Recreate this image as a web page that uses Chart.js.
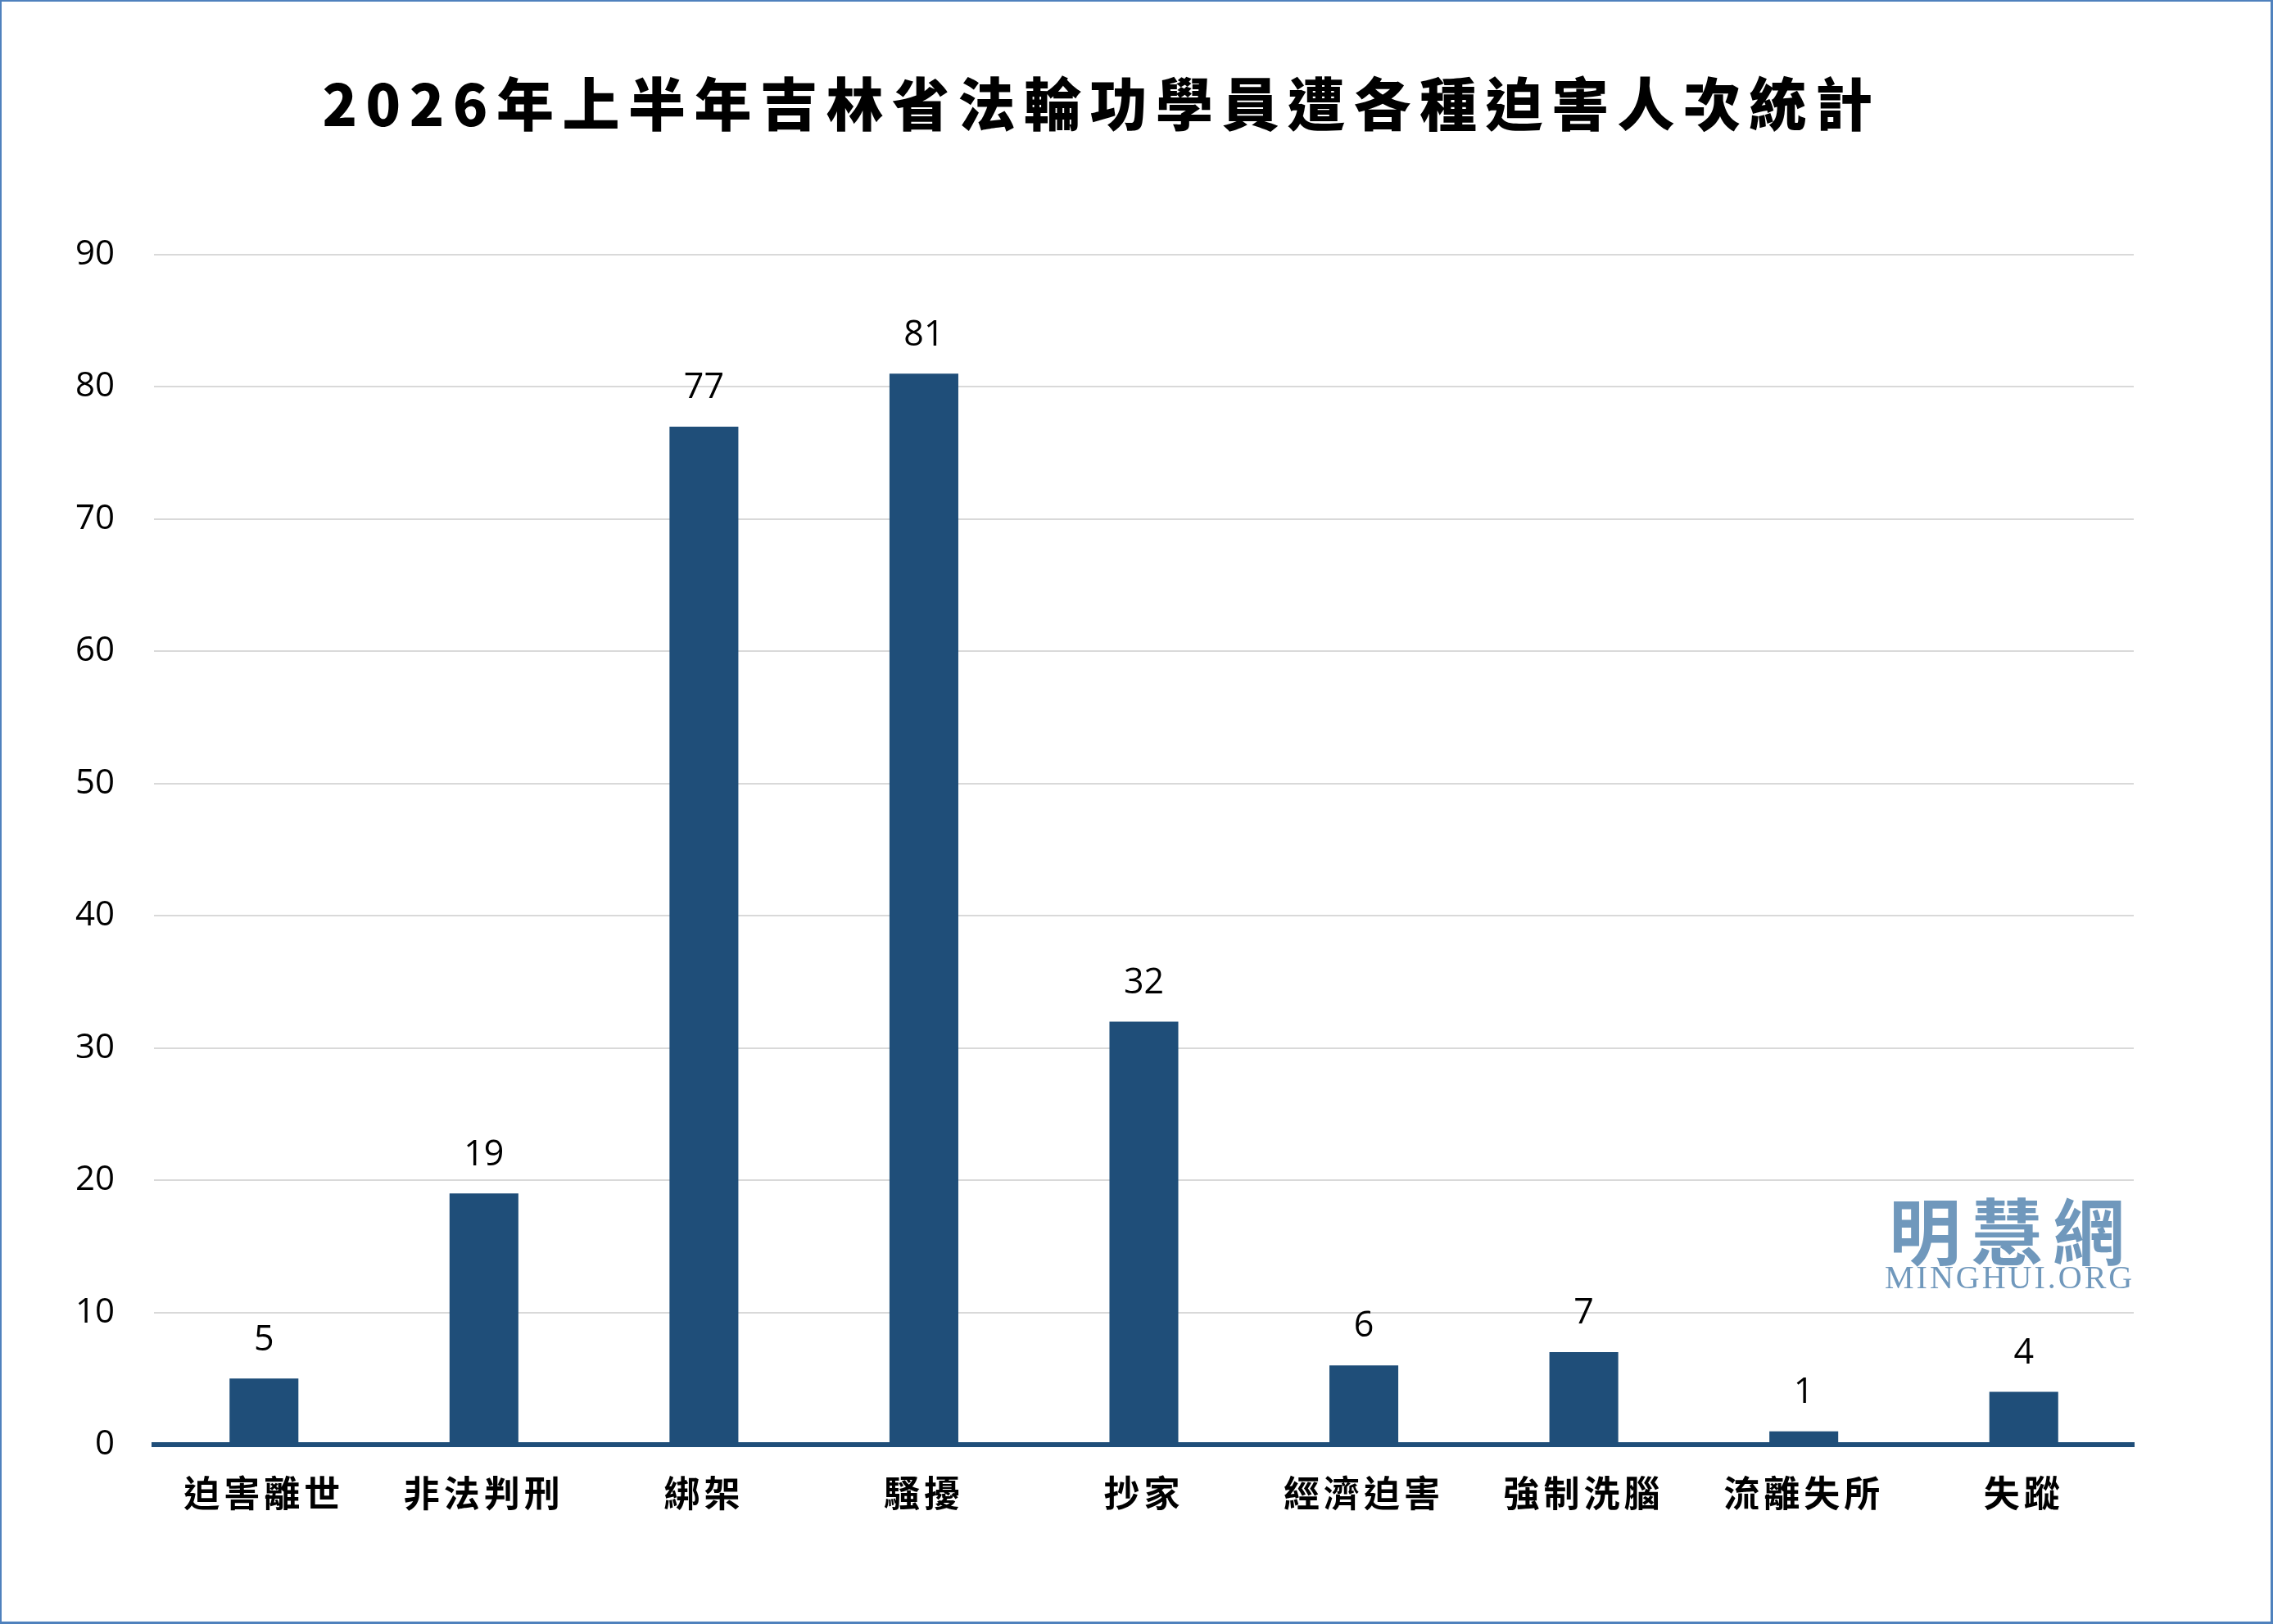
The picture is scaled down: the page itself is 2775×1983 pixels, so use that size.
<!DOCTYPE html>
<html>
<head>
<meta charset="utf-8">
<script src="https://cdn.jsdelivr.net/npm/chart.js@4.4.1/dist/chart.umd.min.js"></script>
<style>
  html, body { margin: 0; padding: 0; background: #fff; }
  #wrap { position: relative; width: 2775px; height: 1983px; overflow: hidden; }
  #frame { position: absolute; left: 0; top: 0; width: 2775px; height: 1983px; box-sizing: border-box;
           border-top: 2px solid #4f81bd; border-left: 2px solid #4f81bd;
           border-right: 3px solid #4f81bd; border-bottom: 3px solid #4f81bd; pointer-events: none; }
  canvas { position: absolute; left: 0; top: 0; }
  #title { position: absolute; left: 0; top: 89px; width: 2690px; text-align: center;
           font-family: "Noto Sans CJK TC", sans-serif; font-weight: 900; font-size: 70px;
           line-height: 70px; letter-spacing: 10.5px; color: #000; white-space: nowrap; }
  #wm1 { position: absolute; left: 2306px; top: 1455px; font-family: "Noto Sans CJK TC", sans-serif;
         font-weight: 700; font-size: 88px; line-height: 88px; letter-spacing: 12px; color: #7098bc; white-space: nowrap; }
  #wm2 { position: absolute; left: 2301px; top: 1540px; font-family: "Liberation Serif", serif;
         font-size: 40px; line-height: 40px; letter-spacing: 3px; color: #7098bc; white-space: nowrap; }
</style>
</head>
<body>
<div id="wrap">
  <canvas id="c" width="2775" height="1983"></canvas>
  <div id="title">2026年上半年吉林省法輪功學員遭各種迫害人次統計</div>
  <div id="wm1">明慧網</div>
  <div id="wm2">MINGHUI.ORG</div>
  <div id="frame"></div>
</div>
<script>
const categories = ["迫害離世", "非法判刑", "綁架", "騷擾", "抄家", "經濟迫害", "強制洗腦", "流離失所", "失蹤"];
const counts = [5, 19, 77, 81, 32, 6, 7, 1, 4];
const yTicks = [0, 10, 20, 30, 40, 50, 60, 70, 80, 90];

const valueLabels = {
  id: 'valueLabels',
  afterDatasetsDraw(chart) {
    const ctx = chart.ctx;
    const meta = chart.getDatasetMeta(0);
    ctx.save();
    ctx.font = '43px "Open Sans", sans-serif';
    ctx.fillStyle = '#000';
    ctx.textAlign = 'center';
    ctx.textBaseline = 'middle';
    meta.data.forEach((bar, i) => {
      ctx.fillText(String(counts[i]), bar.x, bar.y - 47);
    });
    ctx.restore();
    // the category axis labels (ticks.z: 1) are drawn after this hook: widen their glyph spacing
    if ('letterSpacing' in ctx) ctx.letterSpacing = '5px';
  },
  afterDraw(chart) {
    if ('letterSpacing' in chart.ctx) chart.ctx.letterSpacing = '0px';
  }
};

new Chart(document.getElementById('c'), {
  type: 'bar',
  data: {
    labels: categories,
    datasets: [{
      data: counts,
      backgroundColor: '#1f4e79',
      borderWidth: 0,
      barPercentage: 0.313,
      categoryPercentage: 1.0
    }]
  },
  options: {
    responsive: false,
    animation: false,
    devicePixelRatio: 1,
    layout: { padding: { top: 311, right: 170, left: 0, bottom: 0 } },
    plugins: { legend: { display: false }, title: { display: false }, tooltip: { enabled: false } },
    scales: {
      x: {
        grid: { display: false, drawTicks: false },
        border: { display: true, color: '#1f4e79', width: 6, z: 1 },
        ticks: {
          z: 1,
          padding: 33,
          color: '#000',
          font: { family: '"Noto Sans CJK TC", sans-serif', size: 44, weight: 'bold' }
        },
        afterFit(scale) { scale.height = 1983 - 1764; }
      },
      y: {
        min: 0,
        max: 90,
        afterBuildTicks(scale) { scale.ticks = yTicks.map(v => ({ value: v })); },
        grid: { color: '#d9d9d9', lineWidth: 2, drawTicks: false },
        border: { display: false },
        ticks: {
          padding: 48,
          color: '#000',
          font: { family: '"Open Sans", sans-serif', size: 42 }
        },
        afterFit(scale) { scale.width = 188; }
      }
    }
  },
  plugins: [valueLabels]
});
</script>
</body>
</html>
